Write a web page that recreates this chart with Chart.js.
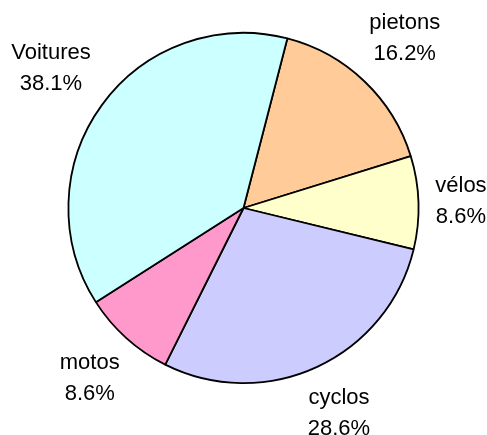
<!DOCTYPE html>
<html>
<head>
<meta charset="utf-8">
<script src="https://cdn.jsdelivr.net/npm/chart.js@4"></script>
<style>
  html, body { margin: 0; padding: 0; background: #fff; }
  #wrap { width: 487px; height: 435px; }
</style>
</head>
<body>
<div id="wrap"><canvas id="myChart" width="487" height="435"></canvas></div>
<script>
  // data
  const categories = ['pietons', 'vélos', 'cyclos', 'motos', 'Voitures'];
  const percents = [16.2, 8.6, 28.6, 8.6, 38.1];
  const sliceColors = ['#FFCC99', '#FFFFCC', '#CCCCFF', '#FF99CC', '#CCFFFF'];

  const fontSpec = '22px "Liberation Sans", Arial, sans-serif';
  const lineGap = 31;

  // labels outside the pie, name on top, percent below
  const outsideLabels = {
    id: 'outsideLabels',
    afterDatasetsDraw(chart) {
      const ctx = chart.ctx;
      const arcs = chart.getDatasetMeta(0).data;
      ctx.save();
      ctx.font = fontSpec;
      ctx.fillStyle = '#000';
      ctx.textAlign = 'center';
      ctx.textBaseline = 'middle';
      arcs.forEach((arc, i) => {
        const mid = (arc.startAngle + arc.endAngle) / 2;
        const lines = [categories[i], percents[i].toFixed(1) + '%'];
        const halfW = Math.max(...lines.map(t => ctx.measureText(t).width)) / 2;
        const halfH = 25;
        const cosA = Math.cos(mid), sinA = Math.sin(mid);
        const d = arc.outerRadius + 16 + Math.abs(halfW * cosA) + Math.abs(halfH * sinA);
        const cx = arc.x + d * cosA;
        const cy = arc.y + d * sinA;
        ctx.fillText(lines[0], cx, cy - lineGap / 2);
        ctx.fillText(lines[1], cx, cy + lineGap / 2);
      });
      ctx.restore();
    }
  };

  const ctx = document.getElementById('myChart').getContext('2d');
  const myChart = new Chart(ctx, {
    type: 'pie',
    data: {
      labels: categories,
      datasets: [{
        data: percents,
        backgroundColor: sliceColors,
        borderColor: '#000',
        borderWidth: 1.8,
        hoverOffset: 0,
        offset: 0
      }]
    },
    options: {
      responsive: false,
      animation: false,
      rotation: 14.5,
      layout: { padding: { top: 32, bottom: 51, left: 0, right: 0 } },
      plugins: {
        legend: { display: false },
        tooltip: { enabled: false }
      }
    },
    plugins: [outsideLabels]
  });
</script>
</body>
</html>
